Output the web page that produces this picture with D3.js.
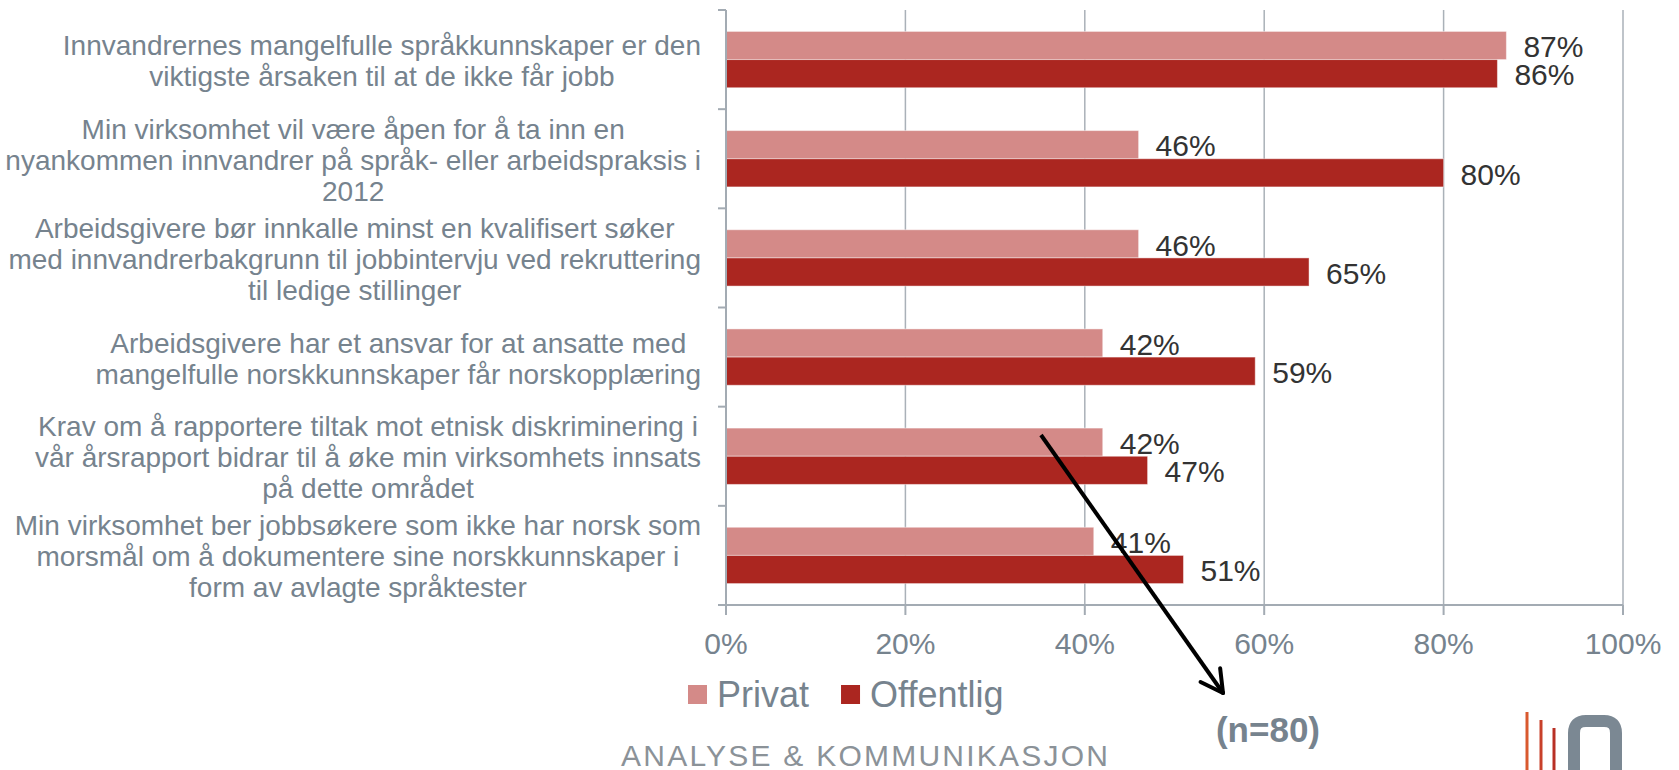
<!DOCTYPE html>
<html>
<head>
<meta charset="utf-8">
<script src="https://cdn.jsdelivr.net/npm/d3@7"></script>
<style>
  html, body { margin: 0; padding: 0; background: #fff; }
  svg { display: block; font-family: "Liberation Sans", Arial, sans-serif; }
</style>
</head>
<body>
<div id="chart"></div>
<script>
const categories = [
  ["Innvandrernes mangelfulle språkkunnskaper er den", "viktigste årsaken til at de ikke får jobb"],
  ["Min virksomhet vil være åpen for å ta inn en", "nyankommen innvandrer på språk- eller arbeidspraksis i", "2012"],
  ["Arbeidsgivere bør innkalle minst en kvalifisert søker", "med innvandrerbakgrunn til jobbintervju ved rekruttering", "til ledige stillinger"],
  ["Arbeidsgivere har et ansvar for at ansatte med", "mangelfulle norskkunnskaper får norskopplæring"],
  ["Krav om å rapportere tiltak mot etnisk diskriminering i", "vår årsrapport bidrar til å øke min virksomhets innsats", "på dette området"],
  ["Min virksomhet ber jobbsøkere som ikke har norsk som", "morsmål om å dokumentere sine norskkunnskaper i", "form av avlagte språktester"]
];
const seriesNames = ["Privat", "Offentlig"];
const privat = [87, 46, 46, 42, 42, 41];
const offentlig = [86, 80, 65, 59, 47, 51];
const xTicks = [0, 20, 40, 60, 80, 100];

const colors = { Privat: "#d48a88", Offentlig: "#ab2620" };
const grey = "#76838e";

const W = 1679, H = 770;
const margin = { top: 10, left: 726, right: 56, bottom: 165 };

const svg = d3.select("#chart").append("svg")
  .attr("width", W).attr("height", H);

const x = d3.scaleLinear().domain([0, 100]).range([margin.left, W - margin.right]);
const y = d3.scaleBand().domain(d3.range(categories.length))
  .range([margin.top, H - margin.bottom]).paddingInner(0.432).paddingOuter(0.216);
const ySub = d3.scaleBand().domain(seriesNames).range([0, y.bandwidth()]);

const rows = categories.map((c, i) => ({ i, lines: c, Privat: privat[i], Offentlig: offentlig[i] }));

// band edges for the left axis ticks
const step = y.step();
const band0 = margin.top;
const bandEdges = d3.range(categories.length + 1).map(k => band0 + k * step);

// gridlines
svg.append("g").selectAll("line").data(xTicks.slice(1)).join("line")
  .attr("x1", d => x(d)).attr("x2", d => x(d))
  .attr("y1", band0).attr("y2", bandEdges[bandEdges.length - 1])
  .attr("stroke", "#aab1b8").attr("stroke-width", 1.5);

// bars + value labels
const g = svg.append("g");
rows.forEach(r => {
  seriesNames.forEach(s => {
    const by = band0 + r.i * step + (step - y.bandwidth()) / 2 + ySub(s);
    g.append("rect")
      .attr("x", x(0))
      .attr("y", by)
      .attr("width", x(r[s]) - x(0))
      .attr("height", ySub.bandwidth())
      .attr("fill", colors[s])
      .attr("stroke", "rgba(255,255,255,0.45)")
      .attr("stroke-width", 1);
    g.append("text")
      .attr("x", x(r[s]) + 17)
      .attr("y", by + ySub.bandwidth() / 2 + 1)
      .attr("dy", "0.36em")
      .attr("font-size", 30)
      .attr("fill", "#333")
      .text(r[s] + "%");
  });
});

// left axis
const axisCol = "#a3abb3";
svg.append("line")
  .attr("x1", x(0)).attr("x2", x(0))
  .attr("y1", band0).attr("y2", bandEdges[bandEdges.length - 1])
  .attr("stroke", axisCol).attr("stroke-width", 2);
svg.append("g").selectAll("line").data(bandEdges).join("line")
  .attr("x1", x(0) - 8).attr("x2", x(0))
  .attr("y1", d => d).attr("y2", d => d)
  .attr("stroke", axisCol).attr("stroke-width", 2);

// bottom axis
const yBase = bandEdges[bandEdges.length - 1];
svg.append("line")
  .attr("x1", x(0) - 8).attr("x2", x(100))
  .attr("y1", yBase).attr("y2", yBase)
  .attr("stroke", axisCol).attr("stroke-width", 2);
svg.append("g").selectAll("line").data(xTicks).join("line")
  .attr("x1", d => x(d)).attr("x2", d => x(d))
  .attr("y1", yBase).attr("y2", yBase + 10)
  .attr("stroke", axisCol).attr("stroke-width", 2);
svg.append("g").selectAll("text").data(xTicks).join("text")
  .attr("x", d => x(d)).attr("y", yBase + 49)
  .attr("text-anchor", "middle")
  .attr("font-size", 30)
  .attr("fill", grey)
  .text(d => d + "%");

// category labels: block right-aligned, lines centred inside the block
const labelRight = 701;
const lineH = 31;
rows.forEach(r => {
  const grp = svg.append("g");
  const cy = band0 + r.i * step + step / 2 + 1;
  const n = r.lines.length;
  const texts = r.lines.map((ln, k) => grp.append("text")
    .attr("y", cy + (k - (n - 1) / 2) * lineH)
    .attr("dy", "0.36em")
    .attr("font-size", 28)
    .attr("fill", grey)
    .attr("text-anchor", "middle")
    .text(ln));
  const maxW = d3.max(texts, t => t.node().getComputedTextLength());
  texts.forEach(t => t.attr("x", labelRight - maxW / 2));
});

// legend
let lx = 688;
seriesNames.forEach(s => {
  svg.append("rect").attr("x", lx).attr("y", 685).attr("width", 19).attr("height", 19)
    .attr("fill", colors[s]);
  const t = svg.append("text").attr("x", lx + 29).attr("y", 707)
    .attr("font-size", 36).attr("fill", grey).text(s);
  lx += 29 + t.node().getComputedTextLength() + 32;
});

// arrow annotation
const a0 = [1041, 435], a1 = [1223, 693];
svg.append("line")
  .attr("x1", a0[0]).attr("y1", a0[1]).attr("x2", a1[0]).attr("y2", a1[1])
  .attr("stroke", "#000").attr("stroke-width", 4);
const ang = Math.atan2(a1[1] - a0[1], a1[0] - a0[0]);
[-0.5, 0.5].forEach(da => {
  svg.append("line")
    .attr("x1", a1[0]).attr("y1", a1[1])
    .attr("x2", a1[0] - 25 * Math.cos(ang + da))
    .attr("y2", a1[1] - 25 * Math.sin(ang + da))
    .attr("stroke", "#000").attr("stroke-width", 4).attr("stroke-linecap", "round");
});

svg.append("text")
  .attr("x", 1268).attr("y", 742)
  .attr("text-anchor", "middle")
  .attr("font-size", 35).attr("font-weight", "bold")
  .attr("fill", grey)
  .text("(n=80)");

// footer brand
svg.append("text")
  .attr("x", 621).attr("y", 766)
  .attr("font-size", 30)
  .attr("fill", "#8b9298")
  .attr("textLength", 487).attr("lengthAdjust", "spacing")
  .text("ANALYSE & KOMMUNIKASJON");

// logo
const logo = svg.append("g");
[[1527, 712, "#d9592e"], [1541, 720, "#c8402a"], [1554, 728, "#b83025"]].forEach(([lx2, ty, c]) => {
  logo.append("line").attr("x1", lx2).attr("x2", lx2).attr("y1", ty).attr("y2", H)
    .attr("stroke", c).attr("stroke-width", 3);
});
logo.append("path")
  .attr("d", "M1574,790 L1574,733 Q1574,721 1586,721 L1604,721 Q1616,721 1616,733 L1616,790")
  .attr("fill", "none").attr("stroke", "#7b8893").attr("stroke-width", 12);
</script>
</body>
</html>
